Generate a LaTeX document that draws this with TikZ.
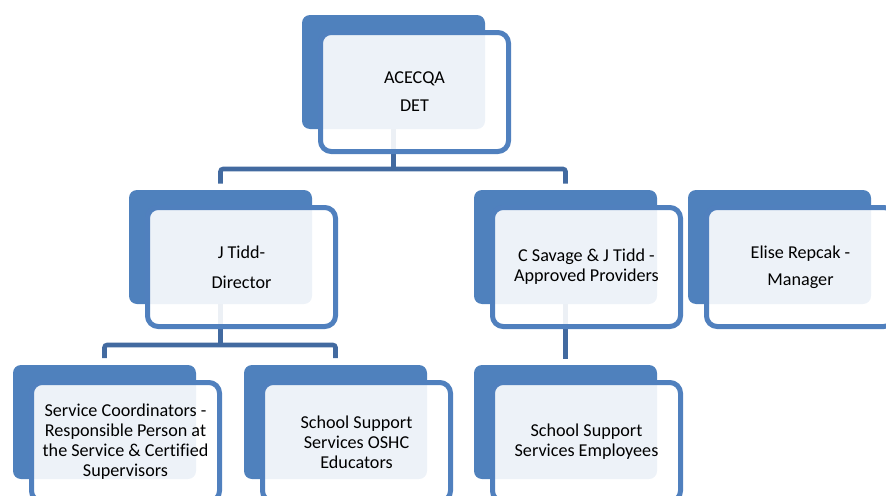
\documentclass[tikz,border=0pt]{standalone}
\usepackage{fontspec}
\setmainfont[Ligatures=NoCommon]{Carlito}
\definecolor{backblue}{RGB}{79,129,189}
\definecolor{edgeblue}{RGB}{80,128,190}
\definecolor{connblue}{RGB}{66,106,160}
\tikzset{
  backbox/.style={rectangle, fill=backblue, rounded corners=6pt, minimum width=137.25pt, minimum height=85.5pt, inner sep=0pt},
  frontbox/.style={rectangle, draw=edgeblue, line width=3.75pt, fill=white, fill opacity=0.9, text opacity=1, rounded corners=8pt, minimum width=141pt, minimum height=89.25pt, inner sep=0pt, align=center, font=\fontsize{13.6}{15}\selectfont},
  conn/.style={draw=connblue, line width=3.5pt, rounded corners=2pt}
}
\begin{document}
\begin{tikzpicture}[x=0.75pt,y=-0.75pt]
\useasboundingbox (0,0) rectangle (886,496);
\clip (0,0) rectangle (886,496);
\coordinate (j1) at (393.5,169);
\coordinate (j2) at (220.5,345);
\node[backbox] (acecqa) at (393.5,72) {};
\node[backbox] (jtidd) at (220.5,247) {};
\node[backbox] (csavage) at (565.5,247) {};
\node[backbox] (elise) at (779.5,247) {};
\node[backbox] (sc) at (104.5,422) {};
\node[backbox] (oshc) at (335.5,422) {};
\node[backbox] (empl) at (565.5,422) {};
\draw[conn] (acecqa.south) -- (j1);
\draw[conn] ([yshift=4.5pt]jtidd.north) |- (j1) -| ([yshift=4.5pt]csavage.north);
\draw[conn] (jtidd.south) -- (j2);
\draw[conn] ([yshift=5pt]sc.north) |- (j2) -| ([yshift=5pt]oshc.north);
\draw[conn] (csavage.south) -- ([yshift=4.5pt]empl.north);
\node[frontbox] (acecqaF) at (414.5,92) {ACECQA\\[6pt]DET};
\node[frontbox] (jtiddF) at (241.5,267) {J Tidd-\\[7.5pt]Director};
\node[frontbox] (csavageF) at (586.5,267) {C Savage \& J Tidd -\\Approved Providers};
\node[frontbox] (eliseF) at (800.5,267) {Elise Repcak -\\[5pt]Manager};
\node[frontbox] (scF) at (125.5,442) {Service Coordinators -\\Responsible Person at\\the Service \& Certified\\Supervisors};
\node[frontbox] (oshcF) at (356.5,442) {School Support\\Services OSHC\\Educators};
\node[frontbox] (emplF) at (586.5,442) {School Support\\Services Employees};
\end{tikzpicture}
\end{document}
